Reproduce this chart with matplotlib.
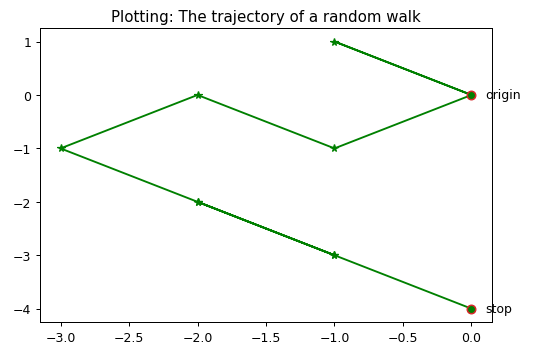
import numpy as np
import matplotlib
matplotlib.use("Agg")
import matplotlib.pyplot as plt

# random walk trajectory
x_walk = [0, -1, 0, -1, -2, -3, -2, -1, -2, -1, 0]
y_walk = [0, 1, 0, -1, 0, -1, -2, -3, -2, -3, -4]
start_label = "origin"
end_label = "stop"


def main():
    fig = plt.figure(figsize=(6, 3.99), dpi=89.67)
    ax = fig.add_axes([40 / 538, 1 - 323 / 358, 452 / 538, 294 / 358])

    ax.plot(x_walk, y_walk, color="g", marker="*", markersize=6, linewidth=1.5)

    for x, y in [(x_walk[0], y_walk[0]), (x_walk[-1], y_walk[-1])]:
        ax.plot(x, y, "o", color="#d62728", markersize=7, zorder=3)
        ax.plot(x, y, "o", color="g", markersize=4.5, zorder=4)

    ax.text(x_walk[0] + 0.1, y_walk[0], start_label, va="center", clip_on=False)
    ax.text(x_walk[-1] + 0.1, y_walk[-1], end_label, va="center", clip_on=False)

    ax.set_title("Plotting: The trajectory of a random walk")
    fig.savefig("out.png", dpi=89.67)


if __name__ == "__main__":
    main()
